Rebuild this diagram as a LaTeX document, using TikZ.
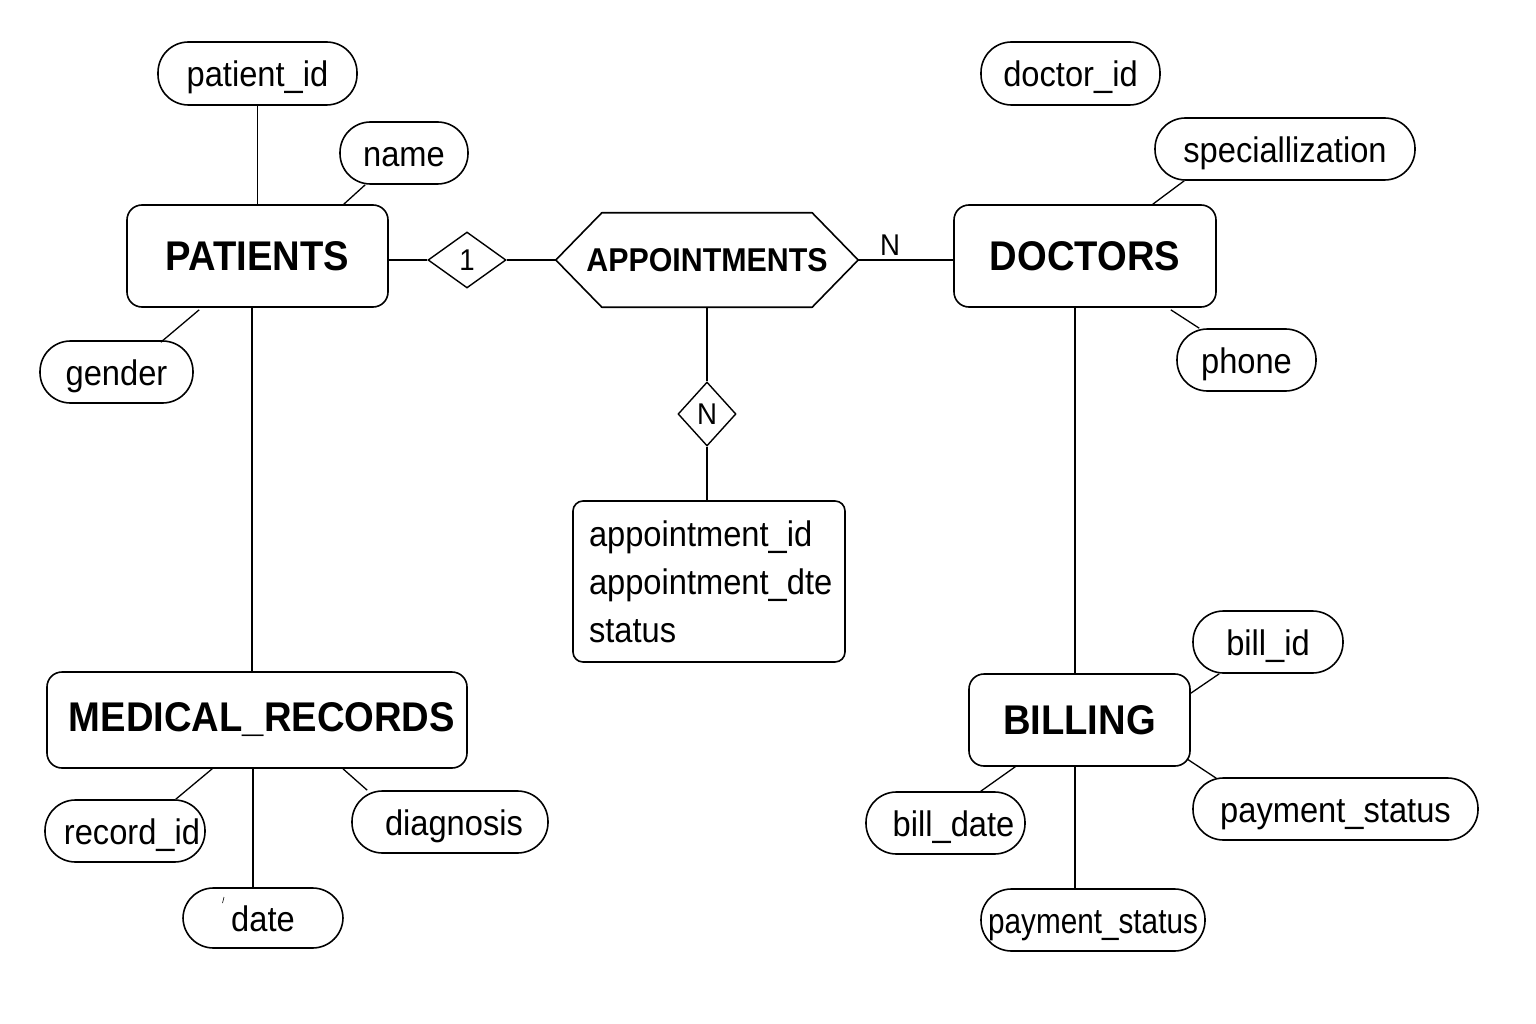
\documentclass[tikz,border=0pt]{standalone}
\usepackage{fontspec}
\setmainfont[FakeStretch=0.92]{Liberation Sans}
\usetikzlibrary{shapes.geometric,calc}
\newcommand\entfont{\bfseries\fontsize{41.5}{46}\selectfont}
\newcommand\attfont{\fontsize{35.5}{40}\selectfont}
\begin{document}
\begin{tikzpicture}[x=1pt,y=-1pt,
  ent/.style={draw, line width=1.6pt, rounded corners=15pt, inner sep=0pt, font=\entfont},
  att/.style={draw, line width=1.6pt, rounded corners=30.5pt, inner sep=0pt, font=\attfont, text height=30pt, text depth=3pt},
  rel/.style={draw, diamond, line width=1.4pt, inner sep=0pt, font=\fontsize{30}{32}\selectfont},
  conn/.style={line width=1.3pt},
  lbl/.style={font=\fontsize{30}{32}\selectfont, inner sep=0pt}]
\useasboundingbox[fill=white] (0,0) rectangle (1536,1024);
% entities
\node[ent, minimum width=261pt, minimum height=102pt] (pat) at (257.5,256) {PATIENTS};
\node[ent, minimum width=420pt, minimum height=96pt] (med) at (257,720) {\hspace*{10pt}MEDICAL\_RECORDS};
\node[ent, minimum width=262pt, minimum height=102pt] (doc) at (1085,256) {DOCTORS};
\node[ent, minimum width=221pt, minimum height=92pt] (bil) at (1079.5,720) {BILLING};
% attributes
\node[att, minimum width=199pt, minimum height=63pt] (pid) at (257.5,73.5) {patient\_id};
\node[att, minimum width=128pt, minimum height=62pt] (nm) at (404,153) {name};
\node[att, minimum width=153pt, minimum height=62pt] (gen) at (116.5,372) {gender};
\node[att, minimum width=160pt, minimum height=62pt] (rid) at (125,831) {\hspace*{14pt}record\_id};
\node[att, minimum width=160pt, minimum height=60pt] (dt) at (263,918) {date};
\node[att, minimum width=196pt, minimum height=62pt] (dg) at (450,822) {\hspace*{8pt}diagnosis};
\node[att, minimum width=179pt, minimum height=63pt] (did) at (1070.5,73.5) {doctor\_id};
\node[att, minimum width=260pt, minimum height=62pt] (spc) at (1285,149) {speciallization};
\node[att, minimum width=139pt, minimum height=62pt] (ph) at (1246.5,360) {phone};
\node[att, minimum width=150pt, minimum height=62pt] (bid) at (1268,642) {bill\_id};
\node[att, minimum width=285pt, minimum height=62pt] (ps1) at (1335.5,809) {payment\_status};
\node[att, minimum width=159pt, minimum height=62pt] (bd) at (945.5,823) {\hspace*{16pt}bill\_date};
\node[att, minimum width=224pt, minimum height=62pt] (ps2) at (1093,920) {\scalebox{0.91}[1]{payment\_status}};
% appointments hexagon
\node[minimum width=302pt, minimum height=94pt, inner sep=0pt, font=\bfseries\fontsize{33}{36}\selectfont] (app) at (707,260) {APPOINTMENTS};
\draw[line width=1.6pt, line join=round] (app.west) -- ($(app.north west)+(46,0)$) -- ($(app.north east)+(-46,0)$) -- (app.east) -- ($(app.south east)+(-46,0)$) -- ($(app.south west)+(46,0)$) -- cycle;
% relationship diamonds
\node[rel, minimum width=78pt, minimum height=56pt] (d1) at (467,260) {1};
\node[rel, minimum width=58pt, minimum height=64pt] (dN) at (707,414) {N};
% attribute list box
\node[draw, line width=1.6pt, rounded corners=10pt, minimum width=272pt, minimum height=161pt, text width=240pt, inner xsep=16pt, inner ysep=0pt, align=left, font=\fontsize{35.5}{48}\selectfont] (alist) at (709,581.5) {appointment\_id\\appointment\_dte\\status};
% N label
\node[lbl] (nlab) at (890,245) {N};
% connectors
\draw[conn] (pid.south) -- (pid.south |- pat.north);
\draw[conn] ($(nm.south west)+(26,0)$) -- ($(pat.north east)+(-45,0)$);
\draw[conn] ($(pat.south west)+(73,2)$) -- ($(gen.north east)+(-33,2)$);
\draw[conn] ($(pat.south)+(-5.5,0)$) -- ($(med.north)+(-5,0)$);
\draw[conn] ($(med.south west)+(166,0)$) -- ($(rid.north east)+(-30,0)$);
\draw[conn] ($(med.south)+(-4,0)$) -- ($(dt.north)+(-10,0)$);
\draw[conn] ($(med.south)+(86,0)$) -- ($(dg.north west)+(16,0)$);
\draw[conn] (d1.west -| pat.east) -- (d1.west);
\draw[conn] (d1.east) -- (app.west);
\draw[conn] (app.east) -- (app.east -| doc.west);
\draw[conn] (app.south) -- (dN.north);
\draw[conn] (dN.south) -- (dN.south |- alist.north);
\draw[conn] ($(did.south)+(3.5,0)$) -- ($(did.south)+(3.5,0)$ |- doc.north);
\draw[conn] ($(spc.south west)+(30,0)$) -- ($(doc.north east)+(-64,0)$);
\draw[conn] ($(doc.south east)+(-46,2)$) -- ($(ph.north west)+(23,0)$);
\draw[conn] ($(doc.south)+(-10,0)$) -- ($(bil.north)+(-4.5,0)$);
\draw[conn] ($(bil.north east)+(0,20)$) -- ($(bid.south west)+(27,0)$);
\draw[conn] ($(bil.south east)+(-4,-8)$) -- ($(ps1.north west)+(24,1)$);
\draw[conn] ($(bil.south west)+(47,0)$) -- ($(bd.north east)+(-45,0)$);
\draw[conn] ($(bil.south)+(-4.5,0)$) -- ($(ps2.north)+(-18,0)$);
% small stray tick near date
\draw[line width=0.6pt] (224,897) -- (222.5,903);
\end{tikzpicture}
\end{document}
